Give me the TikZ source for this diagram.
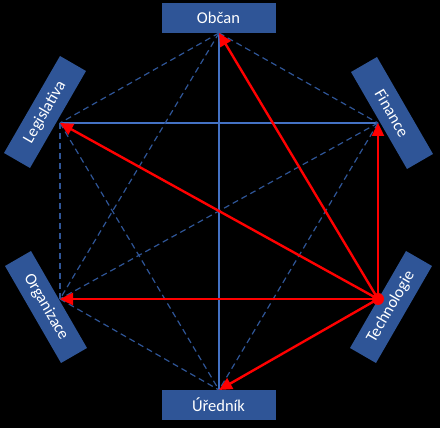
\documentclass[tikz,border=0pt]{standalone}
\usepackage{fontspec}
\setmainfont{Carlito}
\usetikzlibrary{arrows.meta}
\definecolor{BoxBlue}{HTML}{2F5597}
\definecolor{LineBlue}{HTML}{4472C4}
\definecolor{DashBlue}{HTML}{2F5597}

\begin{document}
\begin{tikzpicture}[
  x=1pt,y=1pt,
  box/.style={draw=none,fill=BoxBlue,text=white,minimum width=114pt,
              minimum height=30pt,inner sep=0pt,font=\fontsize{16.5}{19}\selectfont},
  ln/.style={draw=LineBlue,line width=1.2pt},
  dl/.style={draw=DashBlue,line width=1.2pt,dash pattern=on 6pt off 4pt},
  ar/.style={-{Triangle[length=13pt,width=12pt]},draw=red,fill=red,line width=2.4pt},
]
\fill[black] (0,0) rectangle (440,428);
\useasboundingbox (0,0) rectangle (440,428);
% vertices of the hexagon
\coordinate (vO) at (219,395);
\coordinate (vF) at (378,305);
\coordinate (vT) at (378,129);
\coordinate (vU) at (219,38);
\coordinate (vG) at (60,129);
\coordinate (vL) at (60,305);
% thin connections
\draw[ln] (vO) -- (vU); \draw[ln] (vL) -- (vF);
\draw[dl] (vO) -- (vF); \draw[dl] (vO) -- (vL); \draw[dl] (vO) -- (vG);
\draw[dl] (vF) -- (vG); \draw[dl] (vF) -- (vU);
\draw[dl] (vL) -- (vG); \draw[dl] (vL) -- (vU); \draw[dl] (vG) -- (vU);
% labels
\node[box] (obcan) at (218.5,410) {Občan};
\node[box] (urednik) at (218.5,23) {Úředník};
\node[box,minimum width=112pt,rotate=60] (legis) at (45,316) {Legislativa};
\node[box,minimum width=112pt,rotate=-60] (fin) at (392,315) {Finance};
\node[box,minimum width=112pt,rotate=-60] (org) at (46,121) {Organizace};
\node[box,minimum width=112pt,rotate=60] (tech) at (391,121) {Technologie};
% arrows from technology
\draw[ar] (vT) -- (vO); \draw[ar] (vT) -- (vF); \draw[ar] (vT) -- (vL);
\draw[ar] (vT) -- (vG); \draw[ar] (vT) -- (vU);
\fill[red] (vT) circle (6pt);
\end{tikzpicture}
\end{document}
